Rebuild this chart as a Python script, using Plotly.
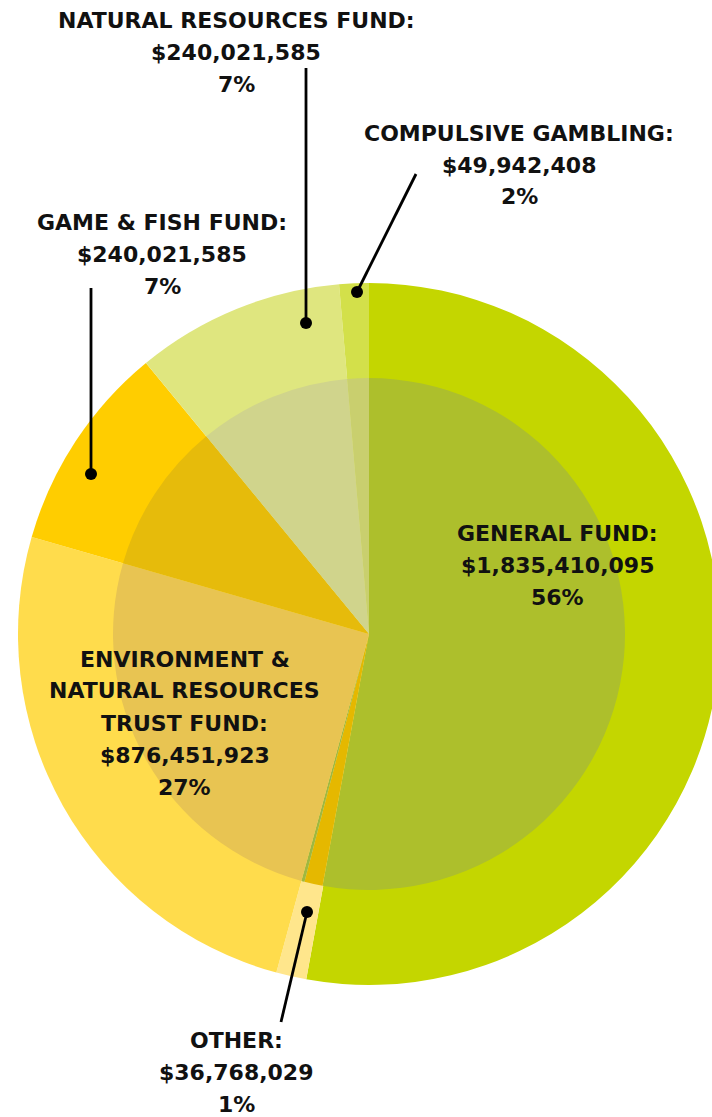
import plotly.graph_objects as go

# ---------------- data ----------------
fund_names = ["General Fund", "Other", "Environment & Natural Resources Trust Fund",
              "Game & Fish Fund", "Natural Resources Fund", "Compulsive Gambling"]
fund_amounts = ["$1,835,410,095", "$36,768,029", "$876,451,923",
                "$240,021,585", "$240,021,585", "$49,942,408"]
fund_pcts = ["56%", "1%", "27%", "7%", "7%", "2%"]
# slice shares as drawn in the picture (percent of the circle)
outer_shares = [52.85, 1.39, 25.2, 9.58, 9.6, 1.36]
outer_colors = ["#c4d600", "#ffe68c", "#ffdc4c", "#ffcd00", "#dfe67f", "#d3e04a"]

# inner (overlay) ring as drawn
inner_names = ["General Fund", "Other A", "Other B", "Environment & Natural Resources Trust Fund",
               "Game & Fish Fund", "Natural Resources Fund", "Compulsive Gambling"]
inner_shares = [52.9, 1.15, 0.2, 25.2, 9.58, 9.6, 1.36]
inner_colors = ["#adbf2c", "#e5b800", "#9fb840", "#e8c452", "#e6bb0b", "#d0d48c", "#c9cf6e"]

# label text lines
label_lines = [
    ["GENERAL FUND:", fund_amounts[0], fund_pcts[0]],
    ["OTHER:", fund_amounts[1], fund_pcts[1]],
    ["ENVIRONMENT &", "NATURAL RESOURCES", "TRUST FUND:", fund_amounts[2], fund_pcts[2]],
    ["GAME & FISH FUND:", fund_amounts[3], fund_pcts[3]],
    ["NATURAL RESOURCES FUND:", fund_amounts[4], fund_pcts[4]],
    ["COMPULSIVE GAMBLING:", fund_amounts[5], fund_pcts[5]],
]

# ---------------- layout geometry (pixels) ----------------
W, H = 720, 1117
CX, CY = 369, 634
R_OUT, R_IN = 351, 256
LINE_GAP = 32
label_pos = [(557, 533), (236, 1040), (185, 659), (162, 222), (236, 20), (519, 133)]
leaders = [  # (x0, y0, x1, y1) start near label, end at dot
    None,
    (281, 1022, 307, 912),
    None,
    (91, 288, 91, 474),
    (306, 68, 306, 323),
    (416, 174, 357, 292),
]


def px(x):
    return x / W


def py(y):
    return 1 - y / H


fig = go.Figure()
fig.add_trace(go.Pie(
    labels=fund_names, values=outer_shares, sort=False, direction="clockwise",
    rotation=0, marker=dict(colors=outer_colors, line=dict(width=0)),
    textinfo="none", hoverinfo="label", showlegend=False,
    domain=dict(x=[px(CX - R_OUT), px(CX + R_OUT)], y=[py(CY + R_OUT), py(CY - R_OUT)]),
))
fig.add_trace(go.Pie(
    labels=inner_names, values=inner_shares, sort=False, direction="clockwise",
    rotation=0, marker=dict(colors=inner_colors, line=dict(width=0)),
    textinfo="none", hoverinfo="label", showlegend=False,
    domain=dict(x=[px(CX - R_IN), px(CX + R_IN)], y=[py(CY + R_IN), py(CY - R_IN)]),
))

FONT = dict(family="DejaVu Sans", size=22, color="#111111")
annotations = []
for lines, (lx, ly) in zip(label_lines, label_pos):
    for i, t in enumerate(lines):
        annotations.append(dict(
            x=px(lx), y=py(ly + i * LINE_GAP), xref="paper", yref="paper",
            text="<b>%s</b>" % t, showarrow=False, xanchor="center", yanchor="middle",
            font=FONT,
        ))

shapes = []
for ld in leaders:
    if ld is None:
        continue
    x0, y0, x1, y1 = ld
    shapes.append(dict(type="line", xref="paper", yref="paper",
                       x0=px(x0), y0=py(y0), x1=px(x1), y1=py(y1),
                       line=dict(color="#000000", width=2.8)))
    rdot = 6
    shapes.append(dict(type="circle", xref="paper", yref="paper",
                       x0=px(x1 - rdot), x1=px(x1 + rdot), y0=py(y1 + rdot), y1=py(y1 - rdot),
                       fillcolor="#000000", line=dict(width=0)))

fig.update_layout(
    width=W, height=H, margin=dict(l=0, r=0, t=0, b=0, pad=0),
    paper_bgcolor="white", plot_bgcolor="white",
    annotations=annotations, shapes=shapes, showlegend=False,
)

fig.write_html(
    "out.html",
    config={"displayModeBar": False},
    post_script="document.documentElement.style.overflow='hidden';document.body.style.overflow='hidden';document.body.style.margin='0';",
)
